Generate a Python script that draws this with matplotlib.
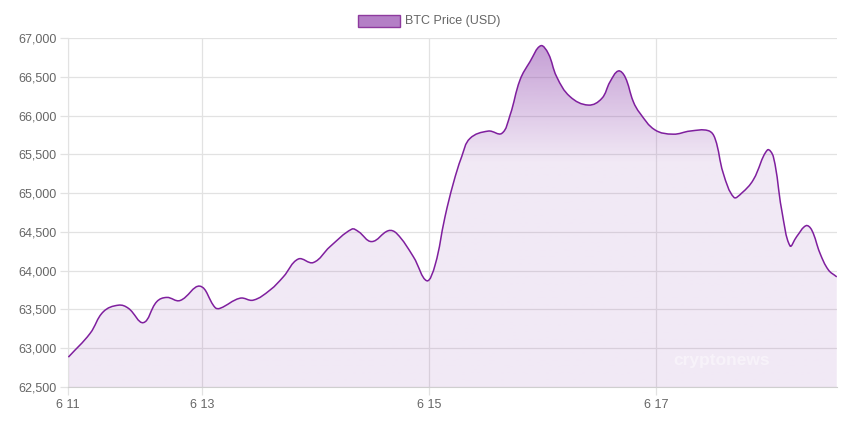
import numpy as np
import matplotlib
matplotlib.use("Agg")
import matplotlib.pyplot as plt
from matplotlib.path import Path
from matplotlib.patches import PathPatch, Rectangle

plt.rcParams['font.family'] = ['Liberation Sans', 'DejaVu Sans']

# BTC price, June (day of month as float) and USD
days = [11.822, 12.013, 12.130, 12.263, 12.351, 12.483, 12.601, 12.689, 12.806, 12.982,
        13.115, 13.159, 13.335, 13.452, 13.599, 13.716, 13.848, 13.981, 14.128, 14.319,
        14.377, 14.495, 14.641, 14.715, 14.862, 14.980, 15.053, 15.141, 15.214, 15.288,
        15.361, 15.522, 15.641, 15.714, 15.802, 15.890, 15.984, 16.051, 16.125, 16.242,
        16.404, 16.522, 16.595, 16.668, 16.727, 16.800, 16.859, 16.991, 17.152, 17.300,
        17.461, 17.520, 17.593, 17.687, 17.755, 17.857, 17.981, 18.034, 18.108, 18.181,
        18.240, 18.322, 18.372, 18.445, 18.519, 18.593]
prices = [62885, 63190, 63470, 63555, 63515, 63330, 63600, 63655, 63615, 63800,
          63525, 63515, 63645, 63620, 63750, 63920, 64150, 64105, 64310, 64535,
          64505, 64375, 64515, 64480, 64180, 63870, 64070, 64695, 65125, 65470,
          65705, 65800, 65770, 66005, 66460, 66695, 66900, 66800, 66500, 66245,
          66135, 66220, 66435, 66575, 66500, 66180, 66030, 65815, 65760, 65800,
          65805, 65705, 65255, 64945, 65000, 65170, 65555, 65470, 64780, 64320,
          64440, 64580, 64525, 64225, 64010, 63920]

tick_pos = [11.819, 13, 15, 17]
tick_labels = ["6 11", "6 13", "6 15", "6 17"]
y_ticks = list(range(62500, 67001, 500))

x_min, x_max = 11.819, 18.595
y_min, y_max = 62500, 67000

line_col = "#7f1f9e"
grid_col = "#e2e2e2"
text_col = "#666666"

fig = plt.figure(figsize=(8.42, 4.21), dpi=100)
ax = fig.add_axes([68 / 842, 1 - 387 / 421, (837 - 68) / 842, (387 - 38) / 421])
ax.set_xlim(x_min, x_max)
ax.set_ylim(y_min, y_max)

# smooth curve like chart.js (tension 0.4), bezier control points in pixel space
sx = 113.5
sy = 349 / 4500
px = (np.array(days) - x_min) * sx
py = (np.array(prices) - y_min) * sy
n = len(px)
verts = [(px[0], py[0])]
codes = [Path.MOVETO]
cp_in = [None] * n
cp_out = [None] * n
t = 0.4
for i in range(n):
    p0 = (px[max(i - 1, 0)], py[max(i - 1, 0)])
    p1 = (px[i], py[i])
    p2 = (px[min(i + 1, n - 1)], py[min(i + 1, n - 1)])
    d01 = np.hypot(p1[0] - p0[0], p1[1] - p0[1])
    d12 = np.hypot(p2[0] - p1[0], p2[1] - p1[1])
    tot = d01 + d12 if d01 + d12 > 0 else 1
    fa = t * d01 / tot
    fb = t * d12 / tot
    cp_in[i] = (p1[0] - fa * (p2[0] - p0[0]), p1[1] - fa * (p2[1] - p0[1]))
    cp_out[i] = (p1[0] + fb * (p2[0] - p0[0]), p1[1] + fb * (p2[1] - p0[1]))
for i in range(1, n):
    verts += [cp_out[i - 1], cp_in[i], (px[i], py[i])]
    codes += [Path.CURVE4] * 3
verts = np.array(verts)
verts[:, 0] = verts[:, 0] / sx + x_min
verts[:, 1] = np.clip(verts[:, 1] / sy + y_min, y_min, y_max)

line_path = Path(verts, codes)
fill_verts = np.vstack([verts, [[days[-1], y_min], [days[0], y_min], verts[0]]])
fill_codes = codes + [Path.LINETO, Path.LINETO, Path.CLOSEPOLY]
fill_path = Path(fill_verts, fill_codes)

# gradient fill: darker near the top, fading down
ys = np.linspace(y_max, y_min, 400)
alpha = np.clip(0.12 + (ys - 65400) / (67000 - 65400) * 0.42, 0.12, 0.54)
img = np.zeros((400, 1, 4))
img[..., 0] = 142 / 255
img[..., 1] = 68 / 255
img[..., 2] = 173 / 255
img[:, 0, 3] = alpha
im = ax.imshow(img, extent=[x_min, x_max, y_min, y_max], aspect="auto",
               interpolation="bilinear", zorder=2)
clip = PathPatch(fill_path, transform=ax.transData, facecolor="none", edgecolor="none")
ax.add_patch(clip)
im.set_clip_path(clip)

ax.add_patch(PathPatch(line_path, facecolor="none", edgecolor=line_col, lw=1.1, zorder=3))

# grid and axes
ax.set_xticks(tick_pos)
ax.set_xticklabels(tick_labels)
ax.set_yticks(y_ticks)
ax.set_yticklabels([f"{v:,}" for v in y_ticks])
ax.grid(True, color=grid_col, lw=0.9, zorder=1)
ax.set_axisbelow(True)
for s in ["top", "right"]:
    ax.spines[s].set_visible(False)
ax.spines["left"].set_color(grid_col)
ax.spines["bottom"].set_color("#cfcfcf")
ax.tick_params(axis="both", colors=grid_col, labelcolor=text_col, labelsize=9, length=6, width=0.9)
ax.tick_params(axis="x", pad=3)
ax.tick_params(axis="y", pad=2)

# legend
fig.patches.append(Rectangle((358 / 842, 1 - 27 / 421), 42 / 842, 12 / 421,
                             transform=fig.transFigure, facecolor="#b47fc6",
                             edgecolor="#8e3a9e", lw=1))
fig.text(405 / 842, 1 - 21 / 421, "BTC Price (USD)", color=text_col, fontsize=9,
         va="center", ha="left")

# watermark
ax.text(0.85, 0.075, "cryptonews", transform=ax.transAxes, color="white", alpha=0.45,
        fontsize=12.5, fontweight="bold", ha="center", va="center", zorder=4)

fig.savefig("out.png", dpi=100)
